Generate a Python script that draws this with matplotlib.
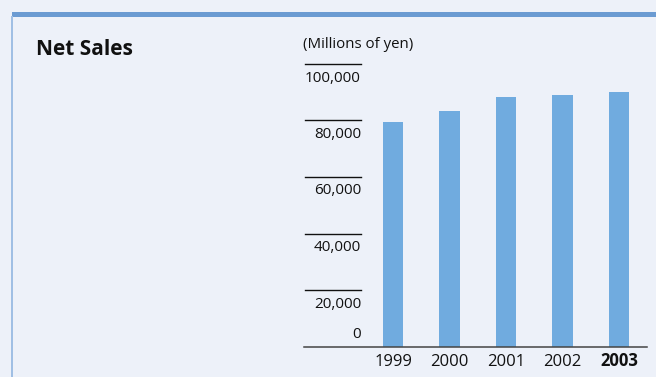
import matplotlib
matplotlib.use("Agg")
import matplotlib.pyplot as plt
from matplotlib.patches import Rectangle
from matplotlib.lines import Line2D
from matplotlib.transforms import offset_copy

years = ["1999", "2000", "2001", "2002", "2003"]
net_sales = [79500, 83400, 88300, 89000, 90100]
tick_values = [0, 20000, 40000, 60000, 80000, 100000]
tick_labels = ["0", "20,000", "40,000", "60,000", "80,000", "100,000"]

BG = "#edf1f9"
BAR = "#70abdf"
FONT = ["Open Sans", "DejaVu Sans"]
INK = "#111111"

W, H = 656, 377
fig = plt.figure(figsize=(W / 100, H / 100), dpi=100, facecolor=BG)

# frame: blue band along the top and thin rule down the left side
fig.add_artist(Rectangle((12 / W, 1 - 17 / H), 1 - 12 / W, 5 / H,
                         transform=fig.transFigure, color="#6b9bd2", lw=0))
fig.add_artist(Rectangle((11 / W, 0), 2 / W, 1 - 16 / H,
                         transform=fig.transFigure, color="#a0bfe4", lw=0))

fig.text(36 / W, 1 - 49.5 / H, "Net Sales", fontsize=15, fontweight="bold",
         family=FONT, color=INK, va="center", ha="left")
fig.text(303 / W, 1 - 45 / H, "(Millions of yen)", fontsize=10.8,
         family=FONT, color=INK, va="center", ha="left")

# plot area
left, right = 304, 647
bottom, top = 346.5, 64
ax = fig.add_axes([left / W, 1 - bottom / H, (right - left) / W, (bottom - top) / H])
ax.set_facecolor("none")
for s in ax.spines.values():
    s.set_visible(False)

x = list(range(len(years)))
ax.bar(x, net_sales, width=0.355, color=BAR, zorder=2)

ax.set_xlim(-1.575, 4.496)
ax.set_ylim(0, 100000)
ax.set_xticks([])
ax.set_yticks([])

# baseline
ax.axhline(0, color="#444444", lw=1.1, zorder=3, clip_on=False)

# short rules with value labels beneath them; zero sits above the baseline
x0, x1 = -1.558, -0.566
for v, lab in zip(tick_values, tick_labels):
    if v > 0:
        ax.add_line(Line2D([x0, x1], [v, v], color="#111111", lw=1.0, clip_on=False))
        dy = -14
    else:
        dy = 12.5
    tr = offset_copy(ax.transData, fig=fig, x=0, y=dy, units="dots")
    ax.text(x1, v, lab, transform=tr, ha="right", va="center", fontsize=11,
            family=FONT, color=INK, clip_on=False)

# year labels
tr = offset_copy(ax.transData, fig=fig, x=0, y=-15, units="dots")
for i, yr in enumerate(years):
    ax.text(i, 0, yr, transform=tr, ha="center", va="center", fontsize=12,
            family=FONT, color=INK,
            fontweight="bold" if i == len(years) - 1 else "normal")

fig.savefig("out.png", dpi=100, facecolor=BG)
